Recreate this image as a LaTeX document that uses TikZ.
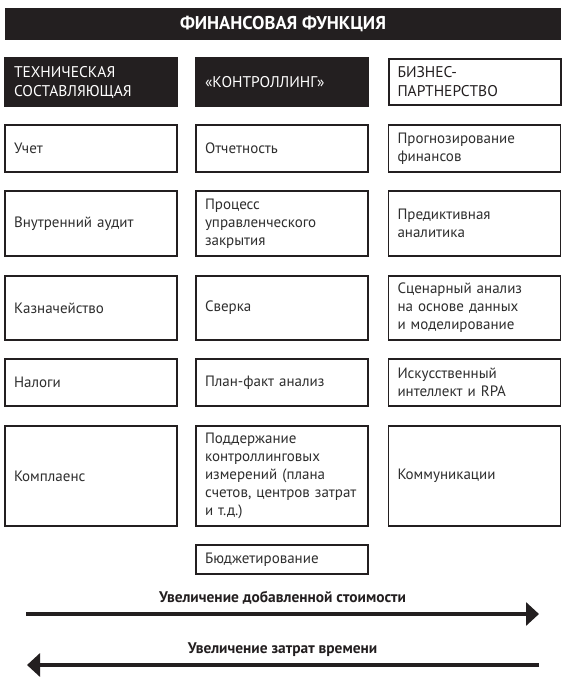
\documentclass[tikz,border=0pt]{standalone}
\usepackage{fontspec}
\setmainfont{PT Sans}
\usetikzlibrary{arrows.meta}
\definecolor{ink}{HTML}{231F20}
\definecolor{txt}{HTML}{2E2E2E}
\begin{document}
\begin{tikzpicture}[x=1pt,y=-1pt,
  cell/.style={draw=ink,line width=1.6pt,fill=white,text=txt,inner xsep=9pt,inner ysep=0pt,
    text width=154pt,align=left,minimum width=172pt,anchor=center,
    font=\fontsize{15}{18}\selectfont},
  headdark/.style={cell,fill=ink,draw=ink,text=white,font=\fontsize{15.5}{19}\selectfont},
  headlight/.style={cell,line width=2pt,text=ink,font=\fontsize{15.5}{19}\selectfont},
  titlebar/.style={fill=ink,text=white,minimum width=556pt,minimum height=32pt,inner sep=0pt,
    font=\bfseries\fontsize{18.5}{20}\selectfont},
  arrowline/.style={draw=ink,line width=4pt,-{Triangle[length=13pt,width=23pt]}},
  lbl/.style={text=ink,inner sep=0pt,font=\bfseries\fontsize{15.4}{18}\selectfont}
]
\useasboundingbox (0,0) rectangle (569,683);
\fill[white] (0,0) rectangle (569,683);

\node[titlebar] (title) at (283,23.5) {ФИНАНСОВАЯ ФУНКЦИЯ};

% headers
\node[headdark,minimum height=48pt] (h1) at (91,82) {ТЕХНИЧЕСКАЯ\\СОСТАВЛЯЮЩАЯ};
\node[headdark,minimum height=48pt] (h2) at (282,82) {«КОНТРОЛЛИНГ»};
\node[headlight,minimum height=46pt] (h3) at (474.5,82) {БИЗНЕС-\\ПАРТНЕРСТВО};

% row 1
\node[cell,minimum height=47pt] (c11) at (91,148.5) {Учет};
\node[cell,minimum height=47pt] (c21) at (282,148.5) {Отчетность};
\node[cell,minimum height=47pt] (c31) at (474.5,148.5) {Прогнозирование\\финансов};

% row 2
\node[cell,minimum height=65pt] (c12) at (91,223.5) {Внутренний аудит};
\node[cell,minimum height=65pt] (c22) at (282,223.5) {Процесс\\управленческого\\закрытия};
\node[cell,minimum height=65pt] (c32) at (474.5,223.5) {Предиктивная\\аналитика};

% row 3
\node[cell,minimum height=64pt] (c13) at (91,308) {Казначейство};
\node[cell,minimum height=64pt] (c23) at (282,308) {Сверка};
\node[cell,minimum height=64pt] (c33) at (474.5,308) {Сценарный анализ\\на основе данных\\и моделирование};

% row 4
\node[cell,minimum height=47pt] (c14) at (91,382.5) {Налоги};
\node[cell,minimum height=47pt] (c24) at (282,382.5) {План-факт анализ};
\node[cell,minimum height=47pt] (c34) at (474.5,382.5) {Искусственный\\интеллект и RPA};

% row 5
\node[cell,minimum height=100pt] (c15) at (91,476) {Комплаенс};
\node[cell,minimum height=100pt] (c25) at (282,476) {Поддержание\\контроллинговых\\измерений (плана\\счетов, центров затрат\\и т.д.)};
\node[cell,minimum height=100pt] (c35) at (474.5,476) {Коммуникации};

% budget
\node[cell,minimum height=29pt] (c26) at (282,559.5) {Бюджетирование};

% arrows
\node[lbl,anchor=base] (l1) at (282.5,602) {Увеличение добавленной стоимости};
\coordinate (a1s) at (26,614);
\coordinate (a1e) at (539,614);
\draw[arrowline] (a1s) -- (a1e);

\node[lbl,anchor=base] (l2) at (282.5,653) {Увеличение затрат времени};
\coordinate (a2s) at (539,665);
\coordinate (a2e) at (27,665);
\draw[arrowline] (a2s) -- (a2e);
\end{tikzpicture}
\end{document}
